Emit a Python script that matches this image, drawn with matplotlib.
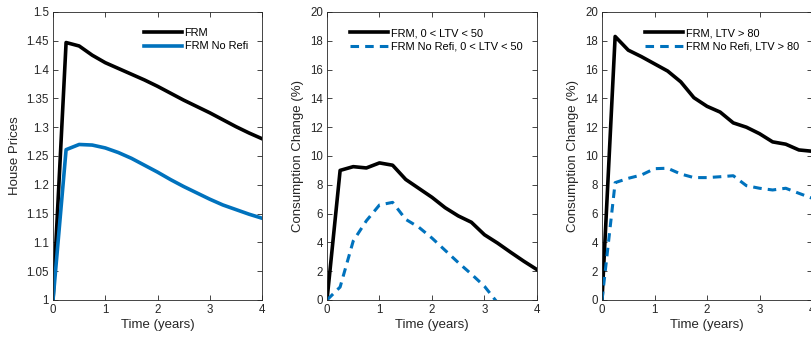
import matplotlib
matplotlib.use("Agg")
import matplotlib.pyplot as plt
from matplotlib.ticker import FormatStrFormatter

plt.rcParams['font.family'] = ['Liberation Sans', 'DejaVu Sans']

# quarterly time grid, years
t = [0, 0.25, 0.5, 0.75, 1, 1.25, 1.5, 1.75, 2, 2.25, 2.5, 2.75, 3, 3.25, 3.5, 3.75, 4]

# panel 1: house prices
hp_frm = [1.0, 1.447, 1.441, 1.425, 1.412, 1.402, 1.392, 1.382, 1.371, 1.359,
          1.347, 1.336, 1.325, 1.313, 1.301, 1.290, 1.280]
hp_norefi = [1.0, 1.261, 1.270, 1.269, 1.264, 1.256, 1.246, 1.234, 1.222, 1.209,
             1.197, 1.186, 1.175, 1.165, 1.157, 1.149, 1.142]

# panel 2: consumption change, 0 < LTV < 50
c_low_frm = [0, 9.0, 9.26, 9.17, 9.52, 9.36, 8.37, 7.75, 7.13, 6.41,
             5.84, 5.40, 4.53, 3.95, 3.31, 2.69, 2.11]
c_low_norefi = [0, 0.9, 4.1, 5.5, 6.6, 6.78, 5.6, 5.05, 4.3, 3.45,
                2.6, 1.8, 0.95, -0.2, -1.0, -1.8, -2.6]

# panel 3: consumption change, LTV > 80
c_high_frm = [0, 18.3, 17.35, 16.9, 16.4, 15.9, 15.15, 14.05, 13.45, 13.05,
              12.3, 12.0, 11.55, 10.98, 10.82, 10.42, 10.33]
c_high_norefi = [0, 8.15, 8.45, 8.68, 9.12, 9.15, 8.75, 8.5, 8.5, 8.56,
                 8.63, 7.94, 7.76, 7.64, 7.76, 7.41, 7.07]

blue = '#0072BD'
axcol = '#262626'

fig = plt.figure(figsize=(8.12, 3.37), dpi=100)
ax1 = fig.add_axes([0.0653, 0.1098, 0.2574, 0.8546])
ax2 = fig.add_axes([0.4027, 0.1098, 0.2586, 0.8546])
ax3 = fig.add_axes([0.7414, 0.1098, 0.2586, 0.8546])

ax1.plot(t, hp_frm, color='black', lw=2.6, label='FRM')
ax1.plot(t, hp_norefi, color=blue, lw=2.6, label='FRM No Refi')
ax1.set_ylim(1, 1.5)
ax1.set_yticks([1 + 0.05 * i for i in range(11)])
ax1.yaxis.set_major_formatter(FormatStrFormatter('%g'))
ax1.set_ylabel('House Prices')
leg_pos = {ax1: (0.435, 0.944)}

ax2.plot(t, c_low_frm, color='black', lw=2.6, label='FRM, 0 < LTV < 50')
ax2.plot(t, c_low_norefi, color=blue, lw=2.2, ls=(0, (2.8, 2.0)), label='FRM No Refi, 0 < LTV < 50')
ax2.set_ylim(0, 20)
ax2.set_yticks(range(0, 21, 2))
ax2.set_ylabel('Consumption Change (%)')
leg_pos[ax2] = (0.11, 0.944)

ax3.plot(t, c_high_frm, color='black', lw=2.6, label='FRM, LTV > 80')
ax3.plot(t, c_high_norefi, color=blue, lw=2.2, ls=(0, (2.8, 2.0)), label='FRM No Refi, LTV > 80')
ax3.set_ylim(0, 20)
ax3.set_yticks(range(0, 21, 2))
ax3.set_ylabel('Consumption Change (%)')
leg_pos[ax3] = (0.205, 0.944)

for ax in (ax1, ax2, ax3):
    ax.set_xlim(0, 4)
    ax.set_xticks([0, 1, 2, 3, 4])
    ax.set_xlabel('Time (years)', fontsize=9.5, color=axcol, labelpad=2)
    ax.yaxis.label.set_color(axcol)
    ax.yaxis.label.set_fontsize(9.5)
    ax.tick_params(direction='in', top=True, right=True, length=3.5, width=0.6,
                   labelsize=8.3, colors=axcol, pad=3)
    for s in ax.spines.values():
        s.set_color(axcol)
        s.set_linewidth(0.6)
    ax.legend(loc='upper left', bbox_to_anchor=leg_pos[ax], frameon=False,
              fontsize=7.9, handlelength=3.5, handletextpad=0.2,
              labelspacing=0.3, borderaxespad=0, borderpad=0)

fig.savefig('out.png', dpi=100)
